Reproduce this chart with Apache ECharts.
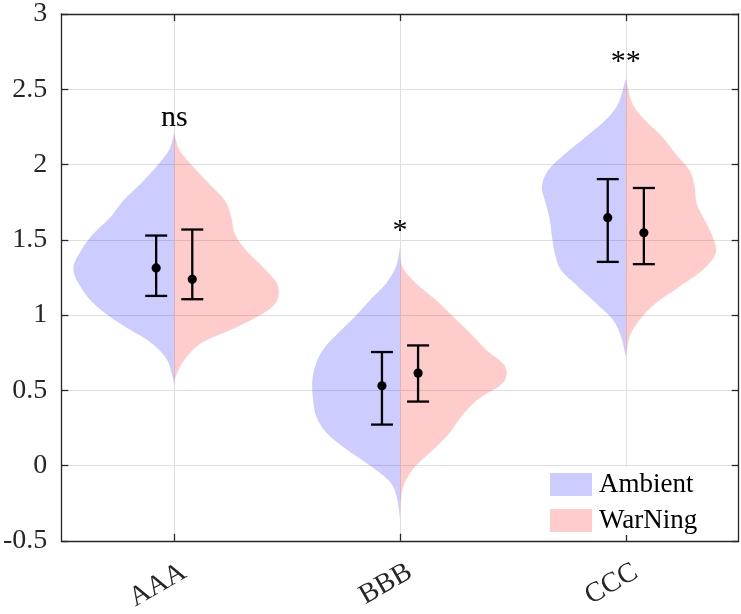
<!DOCTYPE html>
<html>
<head>
<meta charset="utf-8">
<style>html,body{margin:0;padding:0;background:#fff;}#chart{width:741px;height:614px;}</style>
<script src="https://cdn.jsdelivr.net/npm/echarts@6/dist/echarts.min.js"></script>
</head>
<body>
<div id="chart"></div>
<script>
// ---------- data ----------
const categories = ['AAA', 'BBB', 'CCC'];
const seriesNames = ['Ambient', 'WarNing'];
const yTicks = [-0.5, 0, 0.5, 1, 1.5, 2, 2.5, 3];

// violin profiles: y levels and half-width (fraction of category spacing)
const aaaY        = [2.21, 2.10, 2.00, 1.87, 1.76, 1.65, 1.54, 1.43, 1.31, 1.19, 1.06, 0.93, 0.82, 0.71, 0.60, 0.53];
const aaaAmbientW = [0, 0.022, 0.071, 0.150, 0.226, 0.283, 0.358, 0.412, 0.447, 0.416, 0.345, 0.226, 0.106, 0.035, 0.009, 0];
const aaaWarningW = [0, 0.022, 0.075, 0.155, 0.225, 0.253, 0.268, 0.318, 0.398, 0.460, 0.438, 0.292, 0.128, 0.049, 0.009, 0];

const bbbY        = [1.45, 1.32, 1.21, 1.10, 0.99, 0.88, 0.77, 0.66, 0.55, 0.44, 0.33, 0.22, 0.11, 0.00, -0.11, -0.22, -0.35];
const bbbAmbientW = [0, 0.018, 0.062, 0.133, 0.199, 0.274, 0.341, 0.376, 0.389, 0.385, 0.372, 0.327, 0.239, 0.133, 0.044, 0.013, 0];
const bbbWarningW = [0, 0.010, 0.071, 0.159, 0.235, 0.310, 0.381, 0.465, 0.456, 0.345, 0.274, 0.221, 0.150, 0.071, 0.022, 0.004, 0];

const cccY        = [2.57, 2.40, 2.29, 2.18, 2.07, 1.96, 1.85, 1.74, 1.63, 1.52, 1.41, 1.30, 1.19, 1.08, 0.97, 0.86, 0.72];
const cccAmbientW = [0, 0.035, 0.093, 0.181, 0.270, 0.345, 0.372, 0.354, 0.336, 0.327, 0.314, 0.288, 0.212, 0.133, 0.058, 0.022, 0];
const cccWarningW = [0, 0.031, 0.088, 0.164, 0.221, 0.283, 0.305, 0.314, 0.350, 0.385, 0.398, 0.341, 0.239, 0.133, 0.062, 0.018, 0];

// means and error bars
const ambientMean  = [1.313, 0.530, 1.647];
const ambientUpper = [1.528, 0.754, 1.903];
const ambientLower = [1.127, 0.272, 1.353];
const warningMean  = [1.237, 0.614, 1.546];
const warningUpper = [1.568, 0.798, 1.844];
const warningLower = [1.105, 0.425, 1.338];

// significance annotations
const sigLabels = ['ns', '*', '**'];
const sigY = [2.31, 1.56, 2.68];

// ---------- build ----------
const FONT = '"Liberation Serif", "Times New Roman", serif';
const AX = '#262626';
const GRID = '#dfdfdf';
const ambientColor = 'rgba(0,0,255,0.2)';
const warningColor = 'rgba(255,0,0,0.2)';

const profiles = {
  ambient: [
    { y: aaaY, w: aaaAmbientW }, { y: bbbY, w: bbbAmbientW }, { y: cccY, w: cccAmbientW }
  ],
  warning: [
    { y: aaaY, w: aaaWarningW }, { y: bbbY, w: bbbWarningW }, { y: cccY, w: cccWarningW }
  ]
};

function smoothPath(P) {
  let d = 'M' + P[0][0] + ' ' + P[0][1];
  const n = P.length;
  for (let k = 0; k < n - 1; k++) {
    const p0 = P[k - 1] || P[k], p1 = P[k], p2 = P[k + 1], p3 = P[k + 2] || P[k + 1];
    const c1 = [p1[0] + (p2[0] - p0[0]) / 6, p1[1] + (p2[1] - p0[1]) / 6];
    const c2 = [p2[0] - (p3[0] - p1[0]) / 6, p2[1] - (p3[1] - p1[1]) / 6];
    d += ' C' + c1[0] + ' ' + c1[1] + ' ' + c2[0] + ' ' + c2[1] + ' ' + p2[0] + ' ' + p2[1];
  }
  return d + ' Z';
}

function violinRenderer(side, profs, color) {
  return function (params, api) {
    const i = params.dataIndex;
    const prof = profs[i];
    const band = api.size([1, 0])[0];
    const pts = prof.y.map(function (yv, k) {
      const c = api.coord([i, yv]);
      return [c[0] + side * prof.w[k] * band, c[1]];
    });
    return {
      type: 'path',
      shape: { pathData: smoothPath(pts) },
      style: { fill: color, stroke: null }
    };
  };
}

function errorRenderer(params, api) {
  const i = params.dataIndex;
  const band = api.size([1, 0])[0];
  const off = 0.08 * band;
  const cap = 11;
  const children = [];
  [[-1, ambientMean, ambientUpper, ambientLower], [1, warningMean, warningUpper, warningLower]].forEach(function (g) {
    const cm = api.coord([i, g[1][i]]);
    const cu = api.coord([i, g[2][i]]);
    const cl = api.coord([i, g[3][i]]);
    const x = cm[0] + g[0] * off;
    const ls = { stroke: '#000', lineWidth: 2.3 };
    children.push({ type: 'line', shape: { x1: x, y1: cu[1], x2: x, y2: cl[1] }, style: ls });
    children.push({ type: 'line', shape: { x1: x - cap, y1: cu[1], x2: x + cap, y2: cu[1] }, style: ls });
    children.push({ type: 'line', shape: { x1: x - cap, y1: cl[1], x2: x + cap, y2: cl[1] }, style: ls });
    children.push({ type: 'circle', shape: { cx: x, cy: cm[1], r: 4.6 }, style: { fill: '#000' } });
  });
  return { type: 'group', children: children };
}

function sigRenderer(params, api) {
  const i = params.dataIndex;
  const c = api.coord([i, sigY[i]]);
  return {
    type: 'text', x: c[0], y: c[1],
    style: { text: sigLabels[i], fill: '#000', font: '30px ' + FONT, align: 'center', verticalAlign: 'middle' }
  };
}

const idxData = categories.map(function (c, i) { return [i, ambientMean[i]]; });

const chart = echarts.init(document.getElementById('chart'), null, { renderer: 'canvas' });
chart.setOption({
  animation: false,
  backgroundColor: '#fff',
  grid: { left: 61.3, right: 2.3, top: 11, bottom: 71.7, containLabel: false },
  legend: {
    data: [
      { name: seriesNames[0], itemStyle: { color: ambientColor } },
      { name: seriesNames[1], itemStyle: { color: warningColor } }
    ],
    orient: 'vertical',
    left: 543, top: 467,
    padding: [4, 30, 1, 7],
    icon: 'rect',
    itemWidth: 42, itemHeight: 23, itemGap: 9,
    backgroundColor: '#fff',
    selectedMode: false,
    textStyle: { fontFamily: FONT, fontSize: 27, color: '#000', lineHeight: 23, padding: [0, 0, 0, 2] }
  },
  xAxis: [
    {
      type: 'category', data: categories, boundaryGap: true, position: 'bottom',
      axisLine: { show: true, onZero: false, lineStyle: { color: AX, width: 1.3 } },
      axisTick: { show: true, inside: true, alignWithLabel: true, length: 7, lineStyle: { color: AX, width: 1.3 } },
      axisLabel: { show: true, interval: 0, rotate: 30, margin: 35, padding: [0, -11.5, 0, 0], fontFamily: FONT, fontSize: 28, color: AX },
      splitLine: { show: true, alignWithLabel: true, lineStyle: { color: GRID, width: 1 } }
    },
    {
      type: 'category', data: categories, boundaryGap: true, position: 'top',
      axisLine: { show: true, onZero: false, lineStyle: { color: AX, width: 1.3 } },
      axisTick: { show: true, inside: true, alignWithLabel: true, length: 7, lineStyle: { color: AX, width: 1.3 } },
      axisLabel: { show: false }, splitLine: { show: false }
    }
  ],
  yAxis: [
    {
      type: 'value', min: yTicks[0], max: yTicks[yTicks.length - 1], interval: 0.5, position: 'left',
      axisLine: { show: true, onZero: false, lineStyle: { color: AX, width: 1.3 } },
      axisTick: { show: true, inside: true, length: 7, lineStyle: { color: AX, width: 1.3 } },
      axisLabel: { show: true, margin: 14, fontFamily: FONT, fontSize: 28, color: AX },
      splitLine: { show: true, lineStyle: { color: GRID, width: 1 } }
    },
    {
      type: 'value', min: yTicks[0], max: yTicks[yTicks.length - 1], interval: 0.5, position: 'right',
      axisLine: { show: true, onZero: false, lineStyle: { color: AX, width: 1.3 } },
      axisTick: { show: true, inside: true, length: 7, lineStyle: { color: AX, width: 1.3 } },
      axisLabel: { show: false }, splitLine: { show: false }
    }
  ],
  series: [
    { name: seriesNames[0], type: 'custom', xAxisIndex: 0, yAxisIndex: 0, data: idxData,
      itemStyle: { color: ambientColor }, renderItem: violinRenderer(-1, profiles.ambient, ambientColor), z: 2 },
    { name: seriesNames[1], type: 'custom', xAxisIndex: 0, yAxisIndex: 0, data: idxData,
      itemStyle: { color: warningColor }, renderItem: violinRenderer(1, profiles.warning, warningColor), z: 2 },
    { name: 'errors', type: 'custom', xAxisIndex: 0, yAxisIndex: 0, data: idxData,
      renderItem: errorRenderer, z: 3 },
    { name: 'sig', type: 'custom', xAxisIndex: 0, yAxisIndex: 0, data: idxData,
      renderItem: sigRenderer, z: 3 }
  ]
});
</script>
</body>
</html>
